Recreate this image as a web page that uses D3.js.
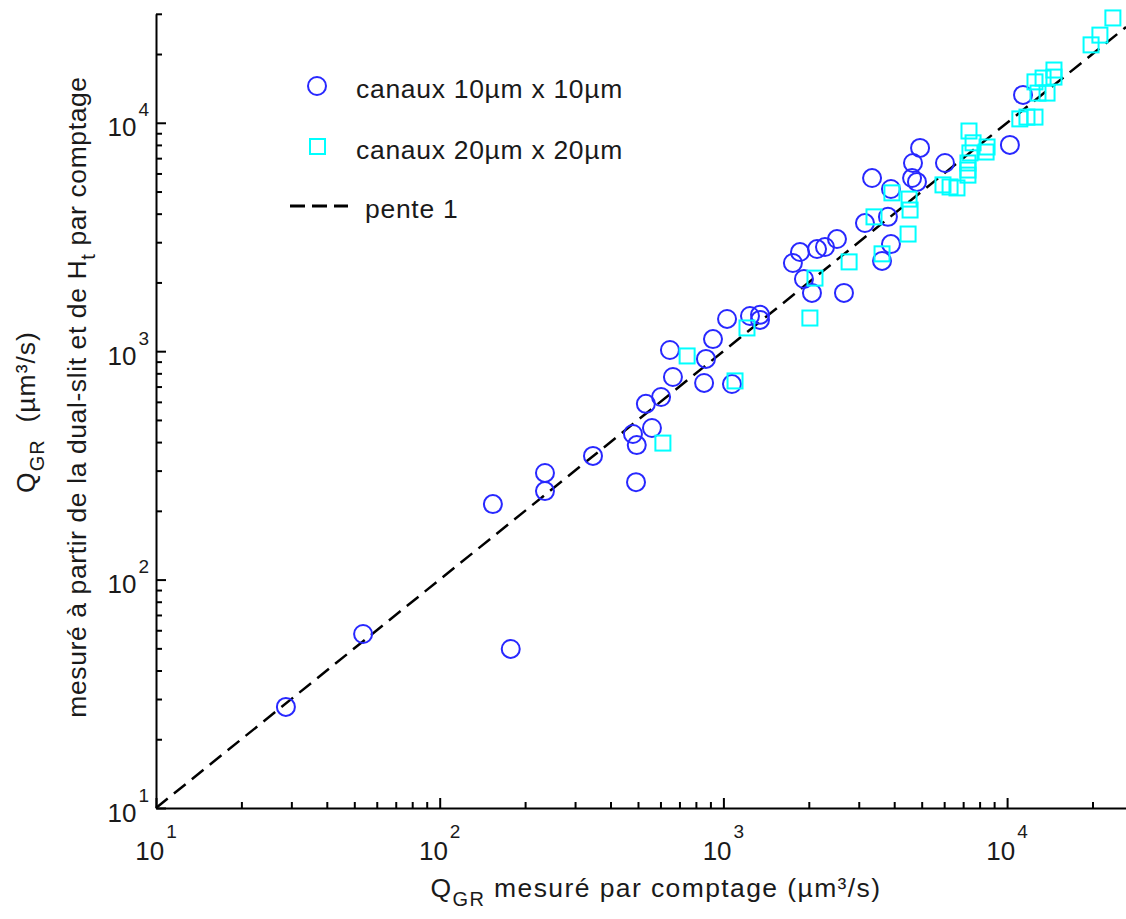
<!DOCTYPE html>
<html><head><meta charset="utf-8">
<script src="https://cdn.jsdelivr.net/npm/d3@7"></script>
<style>
body{margin:0;background:#fff;}
svg{display:block;font-family:"Liberation Sans",Arial,Helvetica,sans-serif;}
</style></head>
<body><svg id="chart" width="1126" height="919"></svg>
<script>
// Data
const circlesX = [28.7, 53.7, 178, 154, 235, 235, 347, 492, 480, 495, 560, 533, 603, 648, 664, 855, 868, 919, 1030, 1072, 1241, 1346, 1346, 1758, 1862, 1923, 2052, 2138, 2281, 2514, 2661, 3155, 3342, 3624, 3802, 3896, 3896, 4624, 4812, 4659, 4934, 6040, 10230, 11380];
const circlesY = [27.7, 57.8, 49.7, 214, 293, 244, 348, 267, 434, 388, 461, 588, 630, 1012, 771, 726, 925, 1130, 1384, 718, 1426, 1371, 1443, 2432, 2717, 2070, 1799, 2800, 2858, 3097, 1799, 3639, 5729, 2484, 3873, 5130, 2944, 5729, 5508, 6668, 7762, 6668, 8000, 13240];
const squaresX = [612, 745, 1099, 1211, 2018, 2103, 2774, 3395, 3624, 3927, 4477, 4550, 4513, 5943, 6295, 6658, 7278, 7278, 7278, 7396, 7340, 7586, 8433, 8500, 11090, 11750, 12540, 12540, 12850, 13830, 13390, 14630, 14630, 19770, 21240, 23600];
const squaresY = [396, 953, 741, 1264, 1397, 2089, 2460, 3873, 2668, 4933, 3258, 4150, 4634, 5346, 5236, 5185, 5900, 6210, 6668, 7380, 9204, 8170, 7447, 7834, 10400, 10590, 10590, 15100, 13490, 13490, 15700, 15850, 17020, 21930, 24200, 28770];
const xDomain = [10, 26250];
const yDomain = [10, 30000];
const decadeExponents = [1, 2, 3, 4];
const legendLabels = ["canaux 10\u00b5m x 10\u00b5m", "canaux 20\u00b5m x 20\u00b5m", "pente 1"];
const lineEnds = [10, 26250];

const svg = d3.select("#chart");
const x = d3.scaleLog().domain(xDomain).range([156, 1126]);
const y = d3.scaleLog().domain(yDomain).range([808, 13.8]);
const txtCol = "#1a1a1a";

function tickVals(dom){
  const v=[];
  for(let e=0;e<=5;e++){for(let m=1;m<=9;m++){const t=m*Math.pow(10,e); if(t>=dom[0]-1e-9 && t<=dom[1]+1e-9) v.push(t);}}
  return v;
}
const isMajor = t => Math.abs(Math.log10(t)-Math.round(Math.log10(t)))<1e-9;

// X axis
const gx = svg.append("g").attr("transform","translate(0,808)")
  .call(d3.axisBottom(x).tickValues(tickVals(xDomain)).tickSizeOuter(0).tickFormat(""));
gx.select(".domain").attr("stroke","#000").attr("stroke-width",2);
gx.selectAll(".tick line").attr("stroke","#000").attr("stroke-width",2)
  .attr("y2", d=> isMajor(d)? -10 : -6);
// Y axis
const gy = svg.append("g").attr("transform","translate(156,0)")
  .call(d3.axisLeft(y).tickValues(tickVals(yDomain)).tickSizeOuter(0).tickFormat(""));
gy.select(".domain").attr("stroke","#000").attr("stroke-width",2);
gy.selectAll(".tick line").attr("stroke","#000").attr("stroke-width",2)
  .attr("x2", d=> isMajor(d)? 10 : 6);

// tick labels
decadeExponents.forEach(e=>{
  const v = Math.pow(10,e);
  const tx = svg.append("text").attr("x", x(v)).attr("y", 860).attr("text-anchor","middle")
    .attr("font-size",26).attr("fill",txtCol);
  tx.append("tspan").text("10");
  tx.append("tspan").attr("font-size",19).attr("dy",-22).attr("dx",2).text(String(e));
  const ty = svg.append("text").attr("x", 149).attr("y", y(v)+13.5).attr("text-anchor","end")
    .attr("font-size",26).attr("fill",txtCol);
  ty.append("tspan").text("10");
  ty.append("tspan").attr("font-size",19).attr("dy",-20).attr("dx",2).text(String(e));
});

// axis titles
const xt = svg.append("text").attr("x", 656).attr("y", 897).attr("text-anchor","middle")
  .attr("font-size",26.5).attr("letter-spacing",1.4).attr("fill",txtCol);
xt.append("tspan").text("Q");
xt.append("tspan").attr("font-size",20).attr("dy",9).text("GR");
xt.append("tspan").attr("dy",-9).text(" mesur\u00e9 par comptage (\u00b5m\u00b3/s)");

const yt1 = svg.append("text").attr("transform","translate(35,412) rotate(-90)").attr("text-anchor","middle")
  .attr("font-size",26.5).attr("letter-spacing",1).attr("fill",txtCol);
yt1.append("tspan").text("Q");
yt1.append("tspan").attr("font-size",20).attr("dy",9).text("GR");
yt1.append("tspan").attr("dy",-9).text("\u00a0\u00a0(\u00b5m\u00b3/s)");

const yt2 = svg.append("text").attr("transform","translate(86,397) rotate(-90)").attr("text-anchor","middle")
  .attr("font-size",26.5).attr("letter-spacing",0.6).attr("fill",txtCol);
yt2.append("tspan").text("mesur\u00e9 \u00e0 partir de la dual-slit et de H");
yt2.append("tspan").attr("font-size",20).attr("dy",9).text("t");
yt2.append("tspan").attr("dy",-9).text(" par comptage");

// reference line (slope 1)
svg.append("line").attr("x1",x(lineEnds[0])).attr("y1",y(lineEnds[0]))
  .attr("x2",x(lineEnds[1])).attr("y2",y(lineEnds[1]))
  .attr("stroke","#000").attr("stroke-width",2.5).attr("stroke-dasharray","15,8");

// markers
svg.append("g").selectAll("circle").data(d3.zip(circlesX,circlesY)).join("circle")
  .attr("cx",d=>x(d[0])).attr("cy",d=>y(d[1])).attr("r",9)
  .attr("fill","none").attr("stroke","#2828ff").attr("stroke-width",2);
svg.append("g").selectAll("rect").data(d3.zip(squaresX,squaresY)).join("rect")
  .attr("x",d=>x(d[0])-7.5).attr("y",d=>y(d[1])-7.5).attr("width",15).attr("height",15)
  .attr("fill","none").attr("stroke","#00ffff").attr("stroke-width",2);

// legend
const lg = svg.append("g");
lg.append("circle").attr("cx",317).attr("cy",86).attr("r",9).attr("fill","none").attr("stroke","#2828ff").attr("stroke-width",2);
lg.append("rect").attr("x",310).attr("y",139).attr("width",15).attr("height",15).attr("fill","none").attr("stroke","#00ffff").attr("stroke-width",2);
lg.append("line").attr("x1",290).attr("x2",348).attr("y1",206).attr("y2",206).attr("stroke","#000").attr("stroke-width",3).attr("stroke-dasharray","15,7");
lg.append("text").attr("x",356).attr("y",98).attr("font-size",26.5).attr("letter-spacing",0.7).attr("fill",txtCol).text(legendLabels[0]);
lg.append("text").attr("x",356).attr("y",159).attr("font-size",26.5).attr("letter-spacing",0.7).attr("fill",txtCol).text(legendLabels[1]);
lg.append("text").attr("x",365).attr("y",218).attr("font-size",26.5).attr("letter-spacing",0.7).attr("fill",txtCol).text(legendLabels[2]);
</script></body></html>
